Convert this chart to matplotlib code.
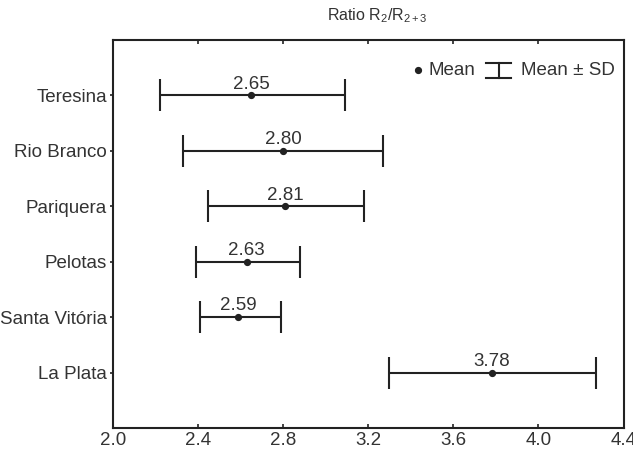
import matplotlib
matplotlib.use("Agg")
import matplotlib.pyplot as plt
import numpy as np

plt.rcParams['font.family'] = ['Liberation Sans', 'DejaVu Sans']
plt.rcParams['mathtext.fontset'] = 'custom'
plt.rcParams['mathtext.rm'] = 'Liberation Sans'
plt.rcParams['mathtext.it'] = 'Liberation Sans'

# data
sites = ["Teresina", "Rio Branco", "Pariquera", "Pelotas", "Santa Vitória", "La Plata"]
means = [2.65, 2.80, 2.81, 2.63, 2.59, 3.78]
lower = [2.22, 2.33, 2.45, 2.39, 2.41, 3.30]
upper = [3.09, 3.27, 3.18, 2.88, 2.79, 4.27]
xticks = [2.0, 2.4, 2.8, 3.2, 3.6, 4.0, 4.4]

ink = "#222222"
txt = "#333333"
fs = 13.5

fig = plt.figure(figsize=(6.33, 4.54), dpi=100)
ax = fig.add_axes([112.7/633, 1-428/454, 510.8/633, 388/454])

y = np.arange(len(sites))
m = np.array(means)
xerr = [m - np.array(lower), np.array(upper) - m]
ax.errorbar(m, y, xerr=xerr, fmt='o', color=ink, ms=4.2, lw=1.5,
            capsize=11.5, capthick=1.5, ecolor=ink)

for yi, mi in zip(y, means):
    ax.annotate("%.2f" % mi, (mi, yi), xytext=(0, 2), textcoords="offset points",
                ha="center", va="bottom", fontsize=fs, color=txt)

ax.set_xlim(2.0, 4.4)
ax.set_ylim(6, -1)
ax.set_xticks(xticks)
ax.set_xticklabels(["%.1f" % v for v in xticks])
ax.set_yticks(y)
ax.set_yticklabels(sites)
ax.tick_params(axis='x', direction='in', top=True, length=3, width=1.2,
               labelsize=fs, labelcolor=txt, color=ink, pad=3)
ax.tick_params(axis='y', direction='out', length=2, width=1.2,
               labelsize=fs, labelcolor=txt, color=ink, pad=2)
for s in ax.spines.values():
    s.set_linewidth(1.5)
    s.set_color(ink)

# title
fig.text(377/633, 1-16/454, r"Ratio R$_2$/R$_{2+3}$", ha="center", va="center",
         fontsize=11.5, color=txt)

# legend drawn by hand in axes fraction
def fx(px):
    return (px - 112.7) / 510.8

def fy(py):
    return (428 - py) / 388

tr = ax.transAxes
ax.plot([fx(418)], [fy(70)], 'o', color=ink, ms=4.2, transform=tr, clip_on=False)
ax.text(fx(428), fy(70.5), "Mean", transform=tr, ha="left", va="center",
        fontsize=fs, color=txt)
ax.plot([fx(486), fx(511)], [fy(63), fy(63)], color=ink, lw=1.5, transform=tr)
ax.plot([fx(486), fx(511)], [fy(78), fy(78)], color=ink, lw=1.5, transform=tr)
ax.plot([fx(498.5), fx(498.5)], [fy(63), fy(78)], color=ink, lw=1.5, transform=tr)
ax.text(fx(521), fy(70.5), "Mean ± SD", transform=tr, ha="left", va="center",
        fontsize=fs, color=txt)

plt.savefig("out.png", dpi=100)
